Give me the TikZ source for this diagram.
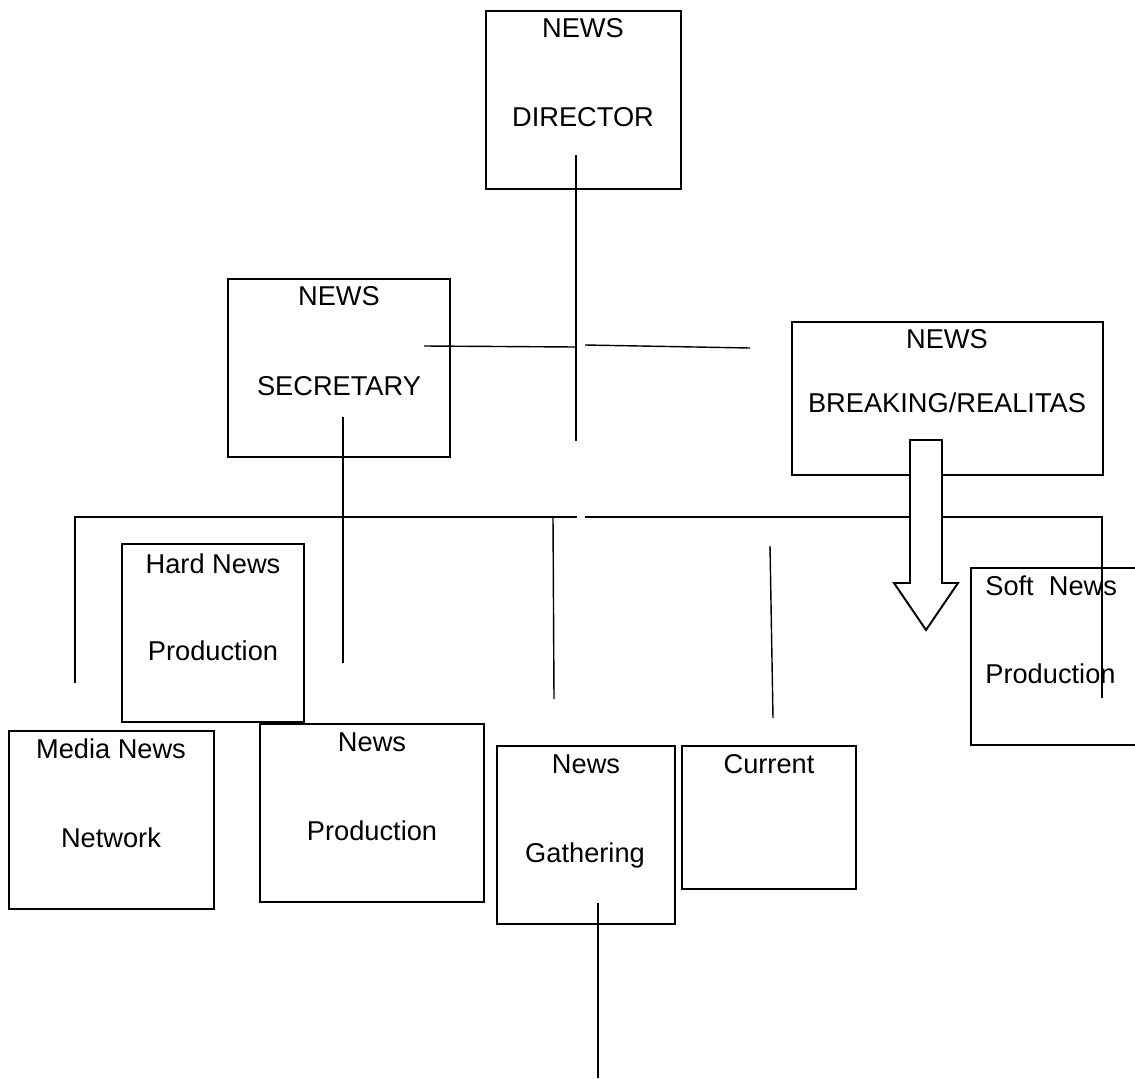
\documentclass[tikz,border=0pt]{standalone}
\usepackage{fontspec}
\setmainfont{Liberation Sans}
\usetikzlibrary{positioning}

\begin{document}
\begin{tikzpicture}[x=0.02cm,y=-0.02cm,
    box/.style={draw,line width=1.1pt,inner sep=0pt},
    lbl/.style={font=\fontsize{15.5}{18}\selectfont,anchor=base,inner sep=0pt},
    conn/.style={line width=0.8pt}]
      \useasboundingbox (0,0) rectangle (1135,1078);
      \node[box,minimum width=3.9cm,minimum height=3.56cm] (director) at (583.5,100) {};
      \node[box,minimum width=4.44cm,minimum height=3.56cm] (secretary) at (339,368) {};
      \node[box,minimum width=6.22cm,minimum height=3.06cm] (breaking) at (947.5,398.5) {};
      \node[box,minimum width=3.64cm,minimum height=3.56cm] (hardnews) at (213,633) {};
      \node[box,minimum width=4.1cm,minimum height=3.56cm] (medianews) at (111.5,820) {};
      \node[box,minimum width=4.48cm,minimum height=3.56cm] (newsprod) at (372,813) {};
      \node[box,minimum width=3.56cm,minimum height=3.56cm] (gathering) at (586,835) {};
      \node[box,minimum width=3.48cm,minimum height=2.86cm] (current) at (769,817.5) {};
      \node[box,minimum width=3.78cm,minimum height=3.54cm] (softnews) at (1065.5,656.5) {};
      \node[lbl] (directorA) at (583,38) {NEWS};
      \node[lbl] (directorB) at (583,127) {DIRECTOR};
      \node[lbl] (secretaryA) at (339,305) {NEWS};
      \node[lbl] (secretaryB) at (339,395) {SECRETARY};
      \node[lbl] (breakingA) at (947,348) {NEWS};
      \node[lbl] (breakingB) at (947,412) {BREAKING/REALITAS};
      \node[lbl] (hardnewsA) at (213,573) {Hard News};
      \node[lbl] (hardnewsB) at (213,660) {Production};
      \node[lbl] (medianewsA) at (111,758) {Media News};
      \node[lbl] (medianewsB) at (111,847) {Network};
      \node[lbl] (newsprodA) at (372,751) {News};
      \node[lbl] (newsprodB) at (372,840) {Production};
      \node[lbl] (gatheringA) at (586,773) {News};
      \node[lbl] (gatheringB) at (585,862) {Gathering};
      \node[lbl] (currentA) at (769,773) {Current};
      \node[lbl,anchor=base west] (softnewsA) at (985,595) {Soft\ \ News};
      \node[lbl,anchor=base west] (softnewsB) at (985,683) {Production};
      \coordinate (d1) at (576,155);
      \coordinate (d2) at (576,441);
      \coordinate (h1) at (424,346);
      \coordinate (h2) at (575,347);
      \coordinate (h3) at (585,345);
      \coordinate (h4) at (750,348);
      \coordinate (b1) at (75,683);
      \coordinate (b2) at (75,517);
      \coordinate (b3) at (577,517);
      \coordinate (b4) at (585,517);
      \coordinate (b5) at (1102,517);
      \coordinate (b6) at (1102,698);
      \coordinate (s1) at (343,417);
      \coordinate (s2) at (343,663);
      \coordinate (v1) at (553,517);
      \coordinate (v2) at (554,699);
      \coordinate (v3) at (770,546);
      \coordinate (v4) at (773,718);
      \coordinate (g1) at (598,903);
      \coordinate (g2) at (598,1078);
      \draw[conn] (d1) -- (d2);
      \draw[conn] (h1) -- (h2);
      \draw[conn] (h3) -- (h4);
      \draw[conn] (b1) -- (b2) -- (b3);
      \draw[conn] (b4) -- (b5) -- (b6);
      \draw[conn] (s1) -- (s2);
      \draw[conn] (v1) -- (v2);
      \draw[conn] (v3) -- (v4);
      \draw[conn] (g1) -- (g2);
      \draw[line width=1.1pt,fill=white] (910,440) -- (942,440) -- (942,583) -- (958,583)
            -- (926,630) -- (894,583) -- (910,583) -- cycle;
\end{tikzpicture}
\end{document}
